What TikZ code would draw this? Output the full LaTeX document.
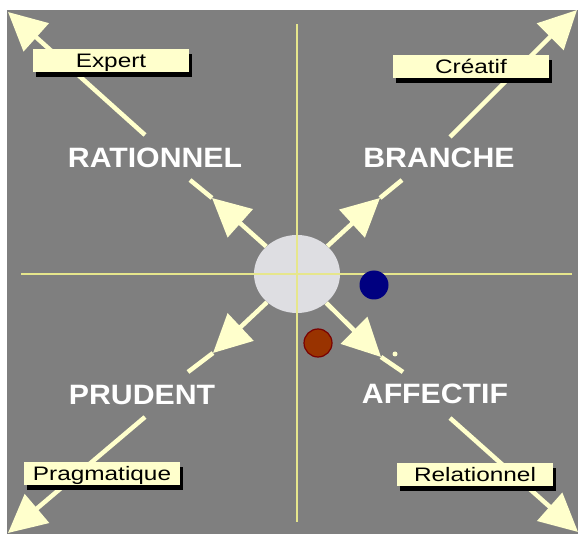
\documentclass[tikz,border=0pt]{standalone}
\usepackage{fontspec}
\usetikzlibrary{arrows.meta, shapes.geometric, shadows}
\newfontfamily\headfont[FakeStretch=1.08]{Liberation Sans}
\newfontfamily\tagfont[FakeStretch=1.25]{Liberation Sans}
\definecolor{slate}{HTML}{7F7F7F}
\definecolor{cream}{HTML}{FFFFCC}
\definecolor{axisyellow}{HTML}{E6E68C}
\definecolor{hubgray}{HTML}{DEDEE2}
\definecolor{dotblue}{HTML}{000080}
\definecolor{dotred}{HTML}{993300}
\definecolor{dotredline}{HTML}{7A0000}
\tikzstyle{arrow} = [cream, line width=4.5pt, -{Triangle[length=38pt,width=37pt]}]
\tikzstyle{stem} = [cream, line width=4.5pt]
\tikzset{
    head/.style={text=white, font=\headfont\bfseries\fontsize{28}{30}\selectfont},
    tag/.style={rectangle, fill=cream, minimum width=156pt, minimum height=23pt, inner sep=0pt,
        text height=15pt, text depth=1pt,
        font=\tagfont\fontsize{19.5}{22}\selectfont,
        drop shadow={shadow xshift=3pt, shadow yshift=-5pt, fill=black, opacity=1}}
}

\begin{document}
\begin{tikzpicture}[x=1pt, y=-1pt]
        \fill[slate] (7,10) rectangle (578,534);
        \useasboundingbox (0,0) rectangle (578,534);

        % centre disc and the two axes
        \node at (297,274) [ellipse, fill=hubgray, minimum width=86pt, minimum height=78pt] (hub) {};
        \coordinate (west) at (21,274);
        \coordinate (east) at (572,274);
        \coordinate (north) at (297,24);
        \coordinate (south) at (297,522);
        \draw[axisyellow, line width=1.5pt] (west) -- (east);
        \draw[axisyellow, line width=1.5pt] (north) -- (south);

        % inner arrows, tip halfway along
        \coordinate (ultip) at (212,198);  \coordinate (ulend) at (190,180);
        \coordinate (urtip) at (380,198);  \coordinate (urend) at (402,180);
        \coordinate (lltip) at (213,353);  \coordinate (llend) at (188,372);
        \coordinate (lrtip) at (381,357);  \coordinate (lrend) at (403,372);
        \draw[arrow] (hub) -- (ultip);  \draw[stem] (ultip) -- (ulend);
        \draw[arrow] (hub) -- (urtip);  \draw[stem] (urtip) -- (urend);
        \draw[arrow] (hub) -- (lltip);  \draw[stem] (lltip) -- (llend);
        \draw[arrow] (hub) -- (lrtip);  \draw[stem] (lrtip) -- (lrend);

        % outer arrows to the corners
        \coordinate (ulstart) at (145,135);  \coordinate (ulcorner) at (8,12);
        \coordinate (urstart) at (450,137);  \coordinate (urcorner) at (577,10);
        \coordinate (llstart) at (145,417);  \coordinate (llcorner) at (8,533);
        \coordinate (lrstart) at (450,418);  \coordinate (lrcorner) at (578,532);
        \draw[arrow] (ulstart) -- (ulcorner);
        \draw[arrow] (urstart) -- (urcorner);
        \draw[arrow] (llstart) -- (llcorner);
        \draw[arrow] (lrstart) -- (lrcorner);

        \node at (374,285) [circle, fill=dotblue, minimum size=29pt, inner sep=0pt] (blue) {};
        \node at (318,343) [circle, fill=dotred, draw=dotredline, line width=1.2pt, minimum size=28pt, inner sep=0pt] (red) {};
        \node at (395,354) [circle, fill=cream, minimum size=5pt, inner sep=0pt] (spark) {};

        \node at (155,158) [head] (rat) {RATIONNEL};
        \node at (439,158) [head] (bra) {BRANCHE};
        \node at (142,395) [head] (pru) {PRUDENT};
        \node at (435,394) [head] (aff) {AFFECTIF};

        \node at (111,61) [tag] (exp) {Expert};
        \node at (471,67) [tag] (cre) {Créatif};
        \node at (102,473) [tag] (pra) {Pragmatique};
        \node at (475,474) [tag] (rel) {Relationnel};
\end{tikzpicture}
\end{document}
